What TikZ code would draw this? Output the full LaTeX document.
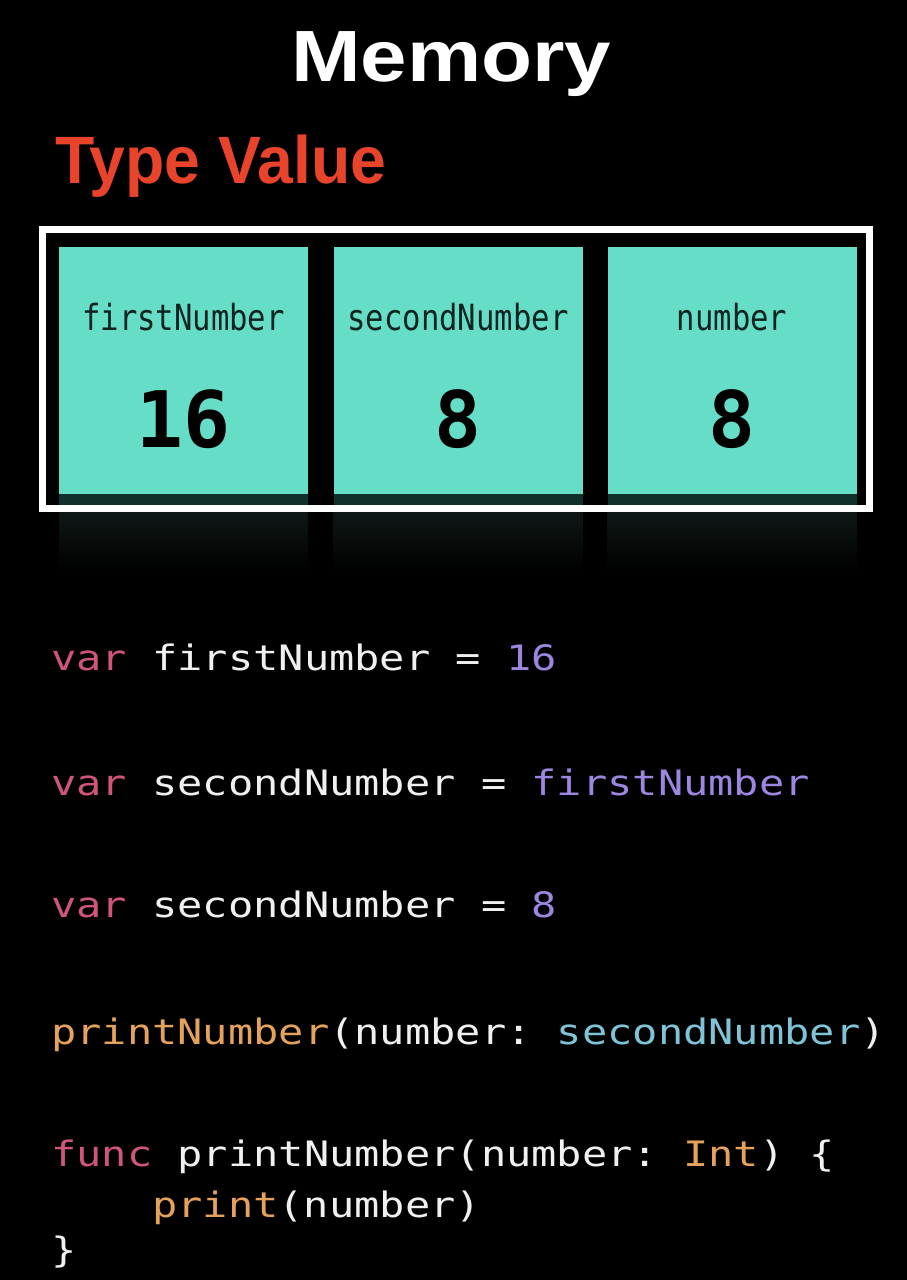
\documentclass[tikz,border=0pt]{standalone}
\usepackage{fontspec}
\newfontfamily\titlefont[FakeStretch=1.15]{Liberation Sans}
\newfontfamily\subfont[FakeStretch=0.96]{Liberation Sans}
\newfontfamily\codefont[FakeStretch=1.2]{DejaVu Sans Mono}
\newfontfamily\labelfont[FakeStretch=0.85]{DejaVu Sans Mono}
\newfontfamily\numfont{DejaVu Sans Mono}
\frenchspacing
\definecolor{bg}{HTML}{000000}
\definecolor{teal}{HTML}{66DDC6}
\definecolor{tealdark}{HTML}{10302B}
\definecolor{labeltext}{HTML}{0D2420}
\definecolor{redtitle}{HTML}{E8432B}
\definecolor{kw}{HTML}{CF5678}
\definecolor{plain}{HTML}{F0F0F0}
\definecolor{purp}{HTML}{9D86E0}
\definecolor{orng}{HTML}{E5A25C}
\definecolor{lblue}{HTML}{7FC4D6}
\definecolor{refl}{HTML}{0F1716}
\tikzset{
  cell/.style={fill=teal, draw=none, minimum width=249pt, minimum height=247pt, inner sep=0pt},
  cellname/.style={anchor=base, inner sep=0pt, text=labeltext, font=\labelfont\fontsize{36}{40}\selectfont},
  cellval/.style={anchor=base, inner sep=0pt, text=black, font=\numfont\bfseries\fontsize{78}{80}\selectfont},
  code/.style={anchor=base west, inner sep=0pt, text=plain, font=\codefont\fontsize{35}{40}\selectfont\frenchspacing},
  frame/.style={draw=white, line width=7pt},
}
\begin{document}
\begin{tikzpicture}[x=1pt,y=-1pt]
\fill[bg] (0,0) rectangle (907,1280);
\useasboundingbox (0,0) rectangle (907,1280);

% titles
\node[anchor=base west, inner sep=0pt, text=white, font=\titlefont\bfseries\fontsize{72.6}{80}\selectfont] (memory) at (291,81) {Memory};
\node[anchor=base west, inner sep=0pt, text=redtitle, font=\subfont\bfseries\fontsize{67}{72}\selectfont] (typevalue) at (55,183) {Type Value};

% reflections below frame
\foreach \cx in {183.5,458,732}{
  \shade[top color=refl, bottom color=bg] (\cx-124.5,512) rectangle (\cx+124.5,570);
}

% memory cells
\node[cell] (c1) at (183.5,370.5) {};
\node[cell] (c2) at (458,370.5) {};
\node[cell] (c3) at (732,370.5) {};
\foreach \cx in {183.5,458,732}{
  \fill[tealdark] (\cx-124.5,494) rectangle (\cx+124.5,505);
}
\draw[frame] (42.5,229.5) rectangle (869.5,508.5);

\node[cellname] (n1) at (183.5,330) {firstNumber};
\node[cellname] (n2) at (458,330) {secondNumber};
\node[cellname] (n3) at (732,330) {number};
\node[cellval] (v1) at (183.5,447) {16};
\node[cellval] (v2) at (458,447) {8};
\node[cellval] (v3) at (732,447) {8};

% code
\node[code] (l1) at (51,670) {\textcolor{kw}{var} firstNumber = \textcolor{purp}{16}};
\node[code] (l2) at (51,795) {\textcolor{kw}{var} secondNumber = \textcolor{purp}{firstNumber}};
\node[code] (l3) at (51,917) {\textcolor{kw}{var} secondNumber = \textcolor{purp}{8}};
\node[code] (l4) at (51,1044) {\textcolor{orng}{printNumber}(number: \textcolor{lblue}{secondNumber})};
\node[code] (l5) at (51,1166) {\textcolor{kw}{func} printNumber(number: \textcolor{orng}{Int}) \{};
\node[code] (l6) at (152,1217) {\textcolor{orng}{print}(number)};
\node[code] (l7) at (51,1262) {\}};
\end{tikzpicture}
\end{document}
